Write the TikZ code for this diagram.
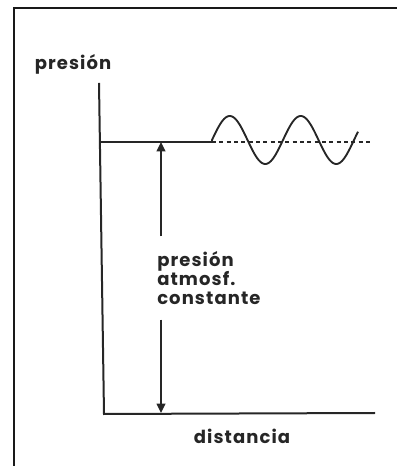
\documentclass[tikz,border=0pt]{standalone}
\usepackage{fontspec}
\setmainfont{Poppins}[LetterSpace=6]
\usetikzlibrary{arrows.meta,calc}

\begin{document}
\begin{tikzpicture}[
    x=0.75pt, y=0.75pt,
    axis/.style={line width=1.5pt, black!85},
    frame/.style={line width=2pt, black!90},
    arr/.style={-{Triangle[length=7pt,width=6.5pt]}, line width=1.1pt, black!85},
    wave/.style={line width=1.4pt, black!85},
    base/.style={dashed, dash pattern=on 3pt off 2.5pt, line width=0.8pt, black!85},
    lbl/.style={font=\fontsize{13.5}{14.3}\selectfont\bfseries, text=black!85, inner sep=0pt}
]
    \useasboundingbox (0,0) rectangle (397,466);
    \draw[frame] (14,0) -- (14,458) -- (397,458);

    % ejes
    \coordinate (origin) at (104,52);
    \coordinate (ytop) at (99,383);
    \coordinate (xend) at (375,53);
    \draw[axis] (ytop) -- (origin) -- (xend);
    \node[lbl] (ylabel) at (73,402) {presión};
    \node[lbl] (xlabel) at (242,30) {distancia};

    % presion constante y onda
    \coordinate (p0) at (100.5,324);
    \coordinate (wstart) at (212,324);
    \coordinate (dashend) at (370,324);
    \draw[axis] (p0) -- (wstart);
    \draw[base] (wstart) -- (dashend);
    \draw[wave] (wstart) -- plot[domain=0:146, samples=120, smooth]
        ({212+\x}, {326+24*sin(5.07*\x)});

    % flecha de presion atmosferica
    \coordinate (atop) at (161,324);
    \coordinate (abot) at (161,53);
    \node[lbl, align=left, anchor=west, inner ysep=11pt] (patm) at (157,188)
        {presión\\atmosf.\\constante};
    \draw[arr] (atop |- patm.north) -- (atop);
    \draw[arr] (abot |- patm.south) -- (abot);
\end{tikzpicture}
\end{document}
